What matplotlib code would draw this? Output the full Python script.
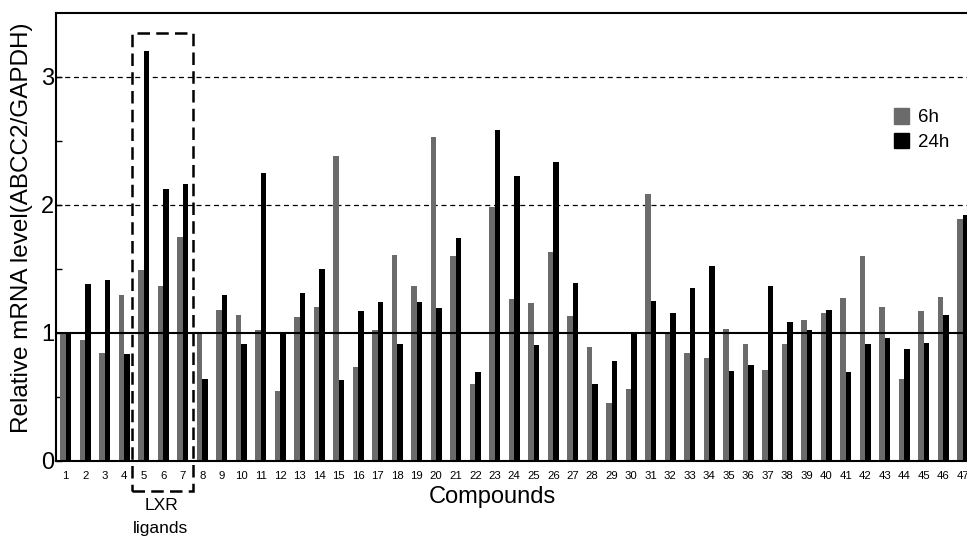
import numpy as np
import matplotlib.pyplot as plt
from matplotlib.patches import Rectangle, Patch

plt.rcParams['font.family'] = ['Liberation Sans', 'DejaVu Sans']

# relative ABCC2/GAPDH mRNA level per compound
compounds = list(range(1, 48))
level_6h = [1.00, 0.94, 0.84, 1.29, 1.49, 1.36, 1.75, 1.00, 1.18, 1.14,
            1.02, 0.54, 1.12, 1.20, 2.38, 0.73, 1.02, 1.61, 1.36, 2.53,
            1.60, 0.60, 1.98, 1.26, 1.23, 1.63, 1.13, 0.89, 0.45, 0.56,
            2.08, 1.00, 0.84, 0.80, 1.03, 0.91, 0.71, 0.91, 1.10, 1.15,
            1.27, 1.60, 1.20, 0.64, 1.17, 1.28, 1.89]
level_24h = [1.00, 1.38, 1.41, 0.83, 3.20, 2.12, 2.16, 0.64, 1.29, 0.91,
             2.25, 1.00, 1.31, 1.50, 0.63, 1.17, 1.24, 0.91, 1.24, 1.19,
             1.74, 0.69, 2.58, 2.22, 0.90, 2.33, 1.39, 0.60, 0.78, 1.00,
             1.25, 1.15, 1.35, 1.52, 0.70, 0.75, 1.36, 1.08, 1.02, 1.18,
             0.69, 0.91, 0.96, 0.87, 0.92, 1.14, 1.92]
series_labels = ['6h', '24h']
series_colors = ['#6b6b6b', '#000000']
lxr_ligands = [5, 6, 7]

W, H = 967, 536
fig = plt.figure(figsize=(W / 100, H / 100), dpi=100)
# axes runs slightly past the right edge, like the original crop
ax = fig.add_axes([56 / W, 75.5 / H, (972.5 - 56) / W, 447.8 / H])

x = np.array(compounds)
bw = 0.27
ax.bar(x - bw / 2, level_6h, bw, color=series_colors[0], linewidth=0, zorder=2)
ax.bar(x + bw / 2, level_24h, bw, color=series_colors[1], linewidth=0, zorder=2)

ax.axhline(1, color='black', lw=1.5, zorder=3)
for yv in (2, 3):
    ax.axhline(yv, color='black', lw=0.9, ls=(0, (4, 3)), zorder=1)

ax.set_xlim(0.5, 47.5)
ax.set_ylim(0, 3.5)
ax.set_yticks([0, 1, 2, 3])
ax.set_yticks([0.5, 1.5, 2.5], minor=True)
ax.set_xticks(compounds)
ax.set_xticklabels([str(c) for c in compounds], fontsize=8.2)
ax.tick_params(axis='x', length=0, pad=7.5)
ax.tick_params(axis='y', which='both', direction='in', labelsize=17, pad=1.5,
               length=4.5, width=1, right=False)
for side in ('left', 'top', 'bottom'):
    ax.spines[side].set_linewidth(1.5)
ax.spines['right'].set_visible(False)

fig.text(22 / W, 1 - 228 / H, 'Relative mRNA level(ABCC2/GAPDH)', rotation=90,
         ha='center', va='center', fontsize=17.5)
fig.text(492 / W, 1 - 497 / H, 'Compounds', ha='center', va='center', fontsize=17)

# dashed box around the LXR ligands
x0 = lxr_ligands[0] - 0.6
x1 = lxr_ligands[-1] + 0.55
box = Rectangle((x0, -0.238), x1 - x0, 3.578, fill=False, ec='black', lw=1.8,
                ls=(0, (5, 2.5)), clip_on=False, zorder=4)
ax.add_patch(box)
fig.text(161 / W, 1 - 506 / H, 'LXR', ha='center', va='center', fontsize=12.5)
fig.text(160 / W, 1 - 528 / H, 'ligands', ha='center', va='center', fontsize=12.5)

handles = [Patch(color=c, label=l) for c, l in zip(series_colors, series_labels)]
ax.legend(handles=handles, loc='upper left', bbox_to_anchor=(894 / W, 1 - 108 / H),
          bbox_transform=fig.transFigure, frameon=False, fontsize=13.5,
          handlelength=0.8, handleheight=0.9, handletextpad=0.5,
          labelspacing=0.35, borderpad=0, borderaxespad=0)

fig.savefig('out.png', dpi=100)
